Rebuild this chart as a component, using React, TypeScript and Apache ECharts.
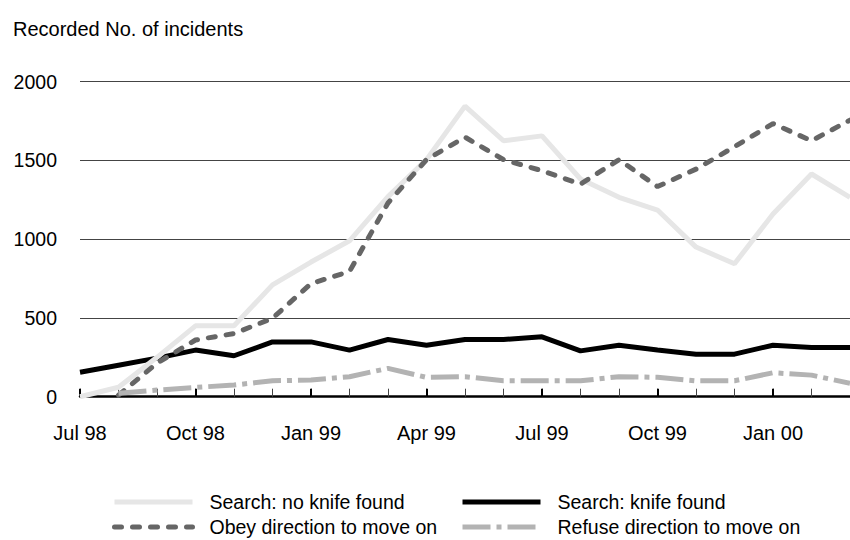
import React, { useEffect, useRef } from "react";
import * as echarts from "echarts";

const months = [
  "Jul 98", "Aug 98", "Sep 98", "Oct 98", "Nov 98", "Dec 98",
  "Jan 99", "Feb 99", "Mar 99", "Apr 99", "May 99", "Jun 99",
  "Jul 99", "Aug 99", "Sep 99", "Oct 99", "Nov 99", "Dec 99",
  "Jan 00", "Feb 00", "Mar 00",
];

const noKnife = [0, 60, 250, 450, 450, 710, 855, 990, 1270, 1505, 1845, 1625, 1656, 1382, 1266, 1185, 950, 844, 1160, 1414, 1266];
const knifeFound = [155, 200, 245, 296, 260, 348, 348, 296, 363, 327, 363, 363, 380, 291, 327, 296, 270, 270, 327, 312, 312];
const obey = [null, 10, 213, 360, 401, 498, 718, 795, 1230, 1505, 1648, 1505, 1435, 1350, 1505, 1334, 1445, 1587, 1734, 1625, 1756];
const refuse = [null, 22, 42, 59, 74, 101, 106, 127, 180, 123, 127, 101, 101, 101, 127, 123, 101, 101, 152, 137, 85];

const yTicks = { min: 0, max: 2000, interval: 500 };

const NAMES = {
  noKnife: "Search: no knife found",
  knife: "Search: knife found",
  obey: "Obey direction to move on",
  refuse: "Refuse direction to move on",
};

const FONT = "'Liberation Sans', Arial, Helvetica, sans-serif";

export default function App() {
  const ref = useRef<HTMLDivElement>(null);
  useEffect(() => {
    if (!ref.current) return;
    const chart = echarts.init(ref.current, null, { renderer: "svg" });
    const textStyle = { fontFamily: FONT, fontSize: 20, color: "#000" };
    const legendText = { fontFamily: FONT, fontSize: 19.5, color: "#000", lineHeight: 20, padding: [0, 0, 0, 12] };
    const mkLegend = (name: string, left: number, top: number) => ({
      orient: "horizontal",
      left,
      top,
      padding: 0,
      itemWidth: 78,
      itemHeight: 20,
      itemGap: 0,
      data: [name],
      itemStyle: { opacity: 0 },
      lineStyle: { width: 5 },
      textStyle: legendText,
      selectedMode: false,
    });
    chart.setOption({
      animation: false,
      backgroundColor: "#fff",
      textStyle: { fontFamily: FONT },
      title: {
        text: "Recorded No. of incidents",
        left: 8,
        top: 14,
        textStyle: { ...textStyle, fontWeight: "normal" },
      },
      grid: { left: 80, right: 0, top: 81.7, bottom: 143.3, containLabel: false },
      xAxis: [
        {
          type: "category",
          data: months,
          boundaryGap: false,
          axisLine: { show: true, lineStyle: { color: "#000", width: 2.5 } },
          axisTick: { show: true, inside: true, length: 8, interval: 0, lineStyle: { color: "#444", width: 1 } },
          axisLabel: {
            ...textStyle,
            margin: 26,
            interval: (i: number) => i % 3 === 0,
          },
          splitLine: { show: false },
        },
        {
          type: "category",
          data: months,
          boundaryGap: false,
          position: "bottom",
          axisLine: { show: false },
          axisTick: { show: true, inside: true, length: 8, interval: (i: number) => i % 3 === 0, lineStyle: { color: "#000", width: 2 } },
          axisLabel: { show: false },
          splitLine: { show: false },
        },
      ],
      yAxis: {
        type: "value",
        min: yTicks.min,
        max: yTicks.max,
        interval: yTicks.interval,
        axisLine: { show: false },
        axisTick: { show: false },
        axisLabel: { ...textStyle, fontSize: 19.5, margin: 23, formatter: (v: number) => String(v) },
        splitLine: { show: true, lineStyle: { color: "#444", width: 1 } },
      },
      legend: [
        mkLegend(NAMES.noKnife, 112, 492),
        mkLegend(NAMES.obey, 112, 517),
        mkLegend(NAMES.knife, 460, 492),
        mkLegend(NAMES.refuse, 460, 517),
      ],
      series: [
        {
          name: NAMES.knife,
          type: "line",
          data: knifeFound,
          symbol: "none",
          lineStyle: { color: "#000", width: 5 },
          itemStyle: { color: "#000" },
          z: 2,
        },
        {
          name: NAMES.noKnife,
          type: "line",
          data: noKnife,
          symbol: "none",
          lineStyle: { color: "#e6e6e6", width: 5 },
          itemStyle: { color: "#e6e6e6" },
          z: 3,
        },
        {
          name: NAMES.obey,
          type: "line",
          data: obey,
          symbol: "none",
          lineStyle: { color: "#666", width: 5, type: [7, 11], cap: "round" },
          itemStyle: { color: "#666" },
          z: 4,
        },
        {
          name: NAMES.refuse,
          type: "line",
          data: refuse,
          symbol: "none",
          lineStyle: { color: "#b3b3b3", width: 5, type: [28, 6, 5, 6] },
          itemStyle: { color: "#b3b3b3" },
          z: 5,
        },
      ],
    });
    return () => chart.dispose();
  }, []);
  return (
    <div
      ref={ref}
      style={{ position: "fixed", left: 0, top: 0, width: 850, height: 540, background: "#fff" }}
    />
  );
}
